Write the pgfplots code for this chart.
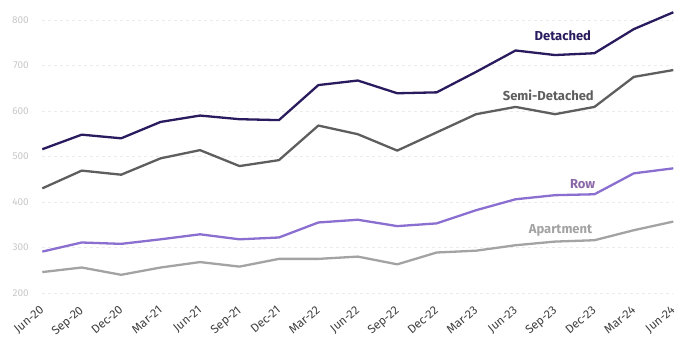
\documentclass[border=0pt]{standalone}
\usepackage{fontspec}
\setmainfont{Fira Sans}
\usepackage{pgfplots}
\pgfplotsset{compat=1.18}
\definecolor{cDet}{HTML}{2A1A5E}
\definecolor{cSemi}{HTML}{5E5E5E}
\definecolor{cRow}{HTML}{8B6FD0}
\definecolor{cApt}{HTML}{A3A3A3}
\definecolor{lRow}{HTML}{8A68A8}
\begin{document}
\begin{tikzpicture}
\begin{axis}[
  at={(0,0)}, anchor=south west,
  scale only axis, width=631pt, height=273pt,
  xmin=0, xmax=16, ymin=200, ymax=800,
  ytick={200,300,...,800},
  xtick={0,...,16},
  xticklabels={Jun-20,Sep-20,Dec-20,Mar-21,Jun-21,Sep-21,Dec-21,Mar-22,Jun-22,Sep-22,Dec-22,Mar-23,Jun-23,Sep-23,Dec-23,Mar-24,Jun-24},
  x tick label style={xshift=-3pt, yshift=-12pt, rotate=40, anchor=north east, font=\fontsize{12}{13}\selectfont, text=black!75, inner sep=0pt},
  y tick label style={font=\fontsize{10}{11}\selectfont, text=black!22, xshift=-10pt},
  /pgf/number format/assume math mode=true,
  axis line style={draw=none},
  major tick style={draw=none},
  ymajorgrids, major grid style={black!8, dashed, line width=0.8pt},
  every axis plot/.append style={line width=2.3pt, line join=round},
  clip=false,
]
\addplot[cApt] coordinates {(0,246)(1,256)(2,240)(3,256)(4,268)(5,258)(6,275)(7,275)(8,280)(9,263)(10,289)(11,293)(12,305)(13,313)(14,316)(15,338)(16,357)};
\addplot[cRow] coordinates {(0,291)(1,311)(2,308)(3,318)(4,329)(5,318)(6,322)(7,355)(8,361)(9,347)(10,353)(11,382)(12,406)(13,415)(14,417)(15,463)(16,474)};
\addplot[cSemi] coordinates {(0,430)(1,469)(2,460)(3,496)(4,514)(5,479)(6,492)(7,568)(8,549)(9,513)(10,553)(11,593)(12,609)(13,593)(14,609)(15,675)(16,690)};
\addplot[cDet] coordinates {(0,516)(1,548)(2,540)(3,576)(4,590)(5,582)(6,580)(7,657)(8,667)(9,639)(10,641)(11,686)(12,733)(13,723)(14,727)(15,780)(16,817)};
\node[font=\bfseries\fontsize{13}{14}\selectfont, text=cDet] at (axis cs:13.2,765) {Detached};
\node[font=\bfseries\fontsize{13}{14}\selectfont, text=cSemi] at (axis cs:12.83,635) {Semi-Detached};
\node[font=\bfseries\fontsize{13}{14}\selectfont, text=lRow] at (axis cs:13.7,440) {Row};
\node[font=\bfseries\fontsize{13}{14}\selectfont, text=cApt] at (axis cs:13.14,338) {Apartment};
\end{axis}
\pgfresetboundingbox
\path (-42.3pt,-55pt) rectangle (634.7pt,293pt);
\end{tikzpicture}
\end{document}
